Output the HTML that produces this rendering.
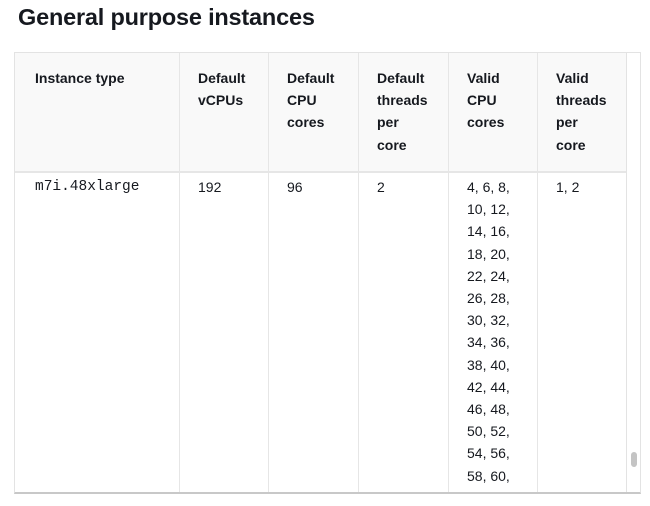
<!DOCTYPE html>
<html><head><meta charset="utf-8"><style>
html,body{margin:0;padding:0;background:#fff;width:650px;height:506px;overflow:hidden;font-family:"Liberation Sans","DejaVu Sans",sans-serif;color:#16191f}
h1{position:absolute;left:18px;top:4px;margin:0;font-size:23.5px;font-weight:bold;letter-spacing:-0.2px}
.box{position:absolute;left:14px;top:52px;width:627px;height:442px;border:1px solid #e3e3e3;border-bottom:2px solid #c8c8c8;box-sizing:border-box;overflow:hidden;background:#fff}
.hdr{position:absolute;left:0;top:0;width:611px;height:118px;background:#f9f9f9;border-bottom:2px solid #e6e6e6}
.v{position:absolute;top:0;width:1px;height:442px;background:#e6e6e6}
.t{position:absolute;font-size:14px;line-height:22.2px}
.b{font-weight:bold}
.m{font-family:"Liberation Mono","DejaVu Sans Mono",monospace;font-size:14.5px}
.sb{position:absolute;left:611px;top:0;width:1px;height:442px;background:#e3e3e3}
.thumb{position:absolute;left:616px;top:399px;width:6px;height:15px;border-radius:3px;background:#c4c4c4}
</style></head><body>
<h1>General purpose instances</h1>
<div class="box">
<div class="hdr"></div>
<div class="v" style="left:164px"></div>
<div class="v" style="left:253px"></div>
<div class="v" style="left:343px"></div>
<div class="v" style="left:433px"></div>
<div class="v" style="left:522px"></div>
<div class="sb"></div>
<div class="thumb"></div>
<div class="t b" style="left:20px;top:14px">Instance type</div>
<div class="t b" style="left:183px;top:14px">Default<br>vCPUs</div>
<div class="t b" style="left:272px;top:14px">Default<br>CPU<br>cores</div>
<div class="t b" style="left:362px;top:14px">Default<br>threads<br>per<br>core</div>
<div class="t b" style="left:452px;top:14px">Valid<br>CPU<br>cores</div>
<div class="t b" style="left:541px;top:14px">Valid<br>threads<br>per<br>core</div>
<div class="t m" style="left:20px;top:123px">m7i.48xlarge</div>
<div class="t" style="left:183px;top:123px">192</div>
<div class="t" style="left:272px;top:123px">96</div>
<div class="t" style="left:362px;top:123px">2</div>
<div class="t" style="left:452px;top:123px">4, 6, 8,<br>10, 12,<br>14, 16,<br>18, 20,<br>22, 24,<br>26, 28,<br>30, 32,<br>34, 36,<br>38, 40,<br>42, 44,<br>46, 48,<br>50, 52,<br>54, 56,<br>58, 60,<br>62, 64,</div>
<div class="t" style="left:541px;top:123px">1, 2</div>
</div>
</body></html>
